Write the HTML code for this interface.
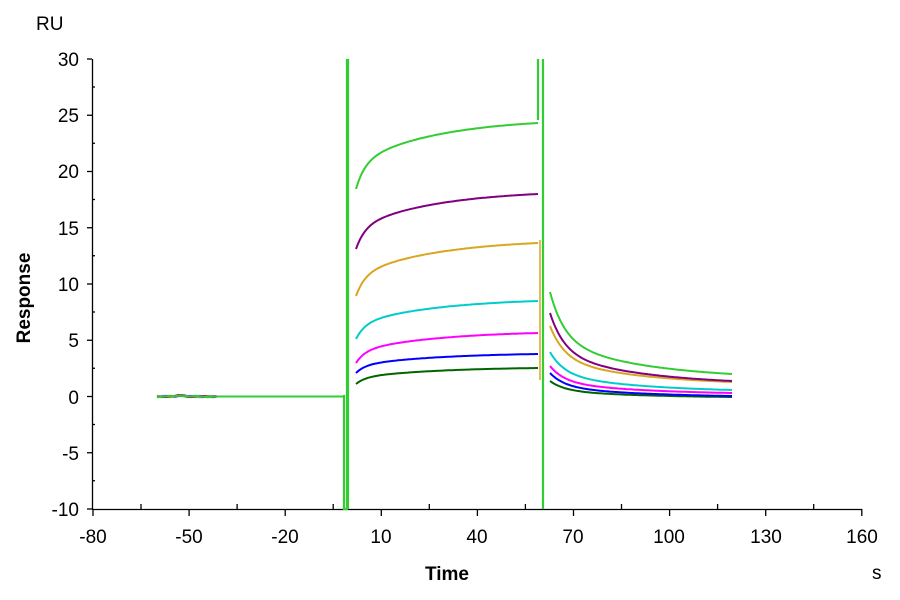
<!DOCTYPE html>
<html><head><meta charset="utf-8"><style>
body{margin:0;background:#fff;}
svg{display:block;font-family:"Liberation Sans",Arial,sans-serif;}
</style></head><body>
<svg id="s" width="900" height="600" viewBox="0 0 900 600">
<rect width="900" height="600" fill="#fff"/>
<g id="axes" stroke="#000" stroke-width="1.3" fill="none">
<line x1="92.5" y1="59" x2="92.5" y2="509"/>
<line x1="92" y1="509.5" x2="862" y2="509.5"/>
</g>
<g id="ticks" stroke="#000" stroke-width="1.3"></g>
<g font-size="19" fill="#000" text-anchor="end">
<text x="79" y="66">30</text><text x="79" y="122">25</text><text x="79" y="178">20</text>
<text x="79" y="235">15</text><text x="79" y="291">10</text><text x="79" y="347">5</text>
<text x="79" y="404">0</text><text x="79" y="460">-5</text><text x="79" y="516">-10</text>
</g>
<g font-size="19" fill="#000" text-anchor="middle">
<text x="93" y="543">-80</text><text x="189" y="543">-50</text><text x="285" y="543">-20</text>
<text x="381" y="543">10</text><text x="477" y="543">40</text><text x="573" y="543">70</text>
<text x="669" y="543">100</text><text x="766" y="543">130</text><text x="862" y="543">160</text>
</g>
<text x="36" y="30" font-size="19">RU</text>
<text x="872" y="579" font-size="19">s</text>
<text x="447" y="580" font-size="19" font-weight="bold" text-anchor="middle">Time</text>
<text transform="translate(30,298) rotate(-90)" font-size="19" font-weight="bold" text-anchor="middle">Response</text>
<g id="data" fill="none" stroke-width="2"></g>
</svg>
<script>
var t=document.getElementById('ticks'),d=document.getElementById('data'),NS='http://www.w3.org/2000/svg';
function L(p,a){var e=document.createElementNS(NS,'line');for(var k in a)e.setAttribute(k,a[k]);p.appendChild(e);}
for(var i=0;i<=8;i++){var x=93+i*96.1;L(t,{x1:x,y1:509,x2:x,y2:516});if(i<8)L(t,{x1:x+48,y1:504,x2:x+48,y2:509});}
for(var i=0;i<=8;i++){var y=59+i*56.25;L(t,{x1:87,y1:y,x2:92,y2:y});if(i<8)L(t,{x1:92,y1:y+28,x2:95,y2:y+28});}
var S=[
['#006400',384,368,381,397],
['#0000ff',373,354,373,396],
['#ff00ff',363,333,366,393],
['#00cccc',339,301,352,390],
['#daa520',296,243,326,382],
['#800080',249,194,313,381],
['#32cd32',189,123,292,374]];
function P(c,pts,w){var e=document.createElementNS(NS,'polyline');e.setAttribute('points',pts.join(' '));e.setAttribute('stroke',c);if(w)e.setAttribute('stroke-width',w);d.appendChild(e);}
function G(q){return 0.55*Math.exp(-q/0.08)+0.45*Math.exp(-q/0.5);}
S.forEach(function(s,j){
 var a=[],b=[],c=[];
 for(var x=157;x<=343;x+=3){var y=396.5+(x<215?Math.sin(x*0.25+j)*0.6:0)+(x>175&&x<185?-1:0);c.push(x+','+y.toFixed(1));}
 P(s[0],c);
 for(var x=356;x<=538;x+=2){var q=(x-356)/182;var f=0.4*(1-Math.exp(-q/0.05))+0.6*(1-Math.exp(-q/0.45))/(1-Math.exp(-1/0.45));a.push(x+','+(s[1]+(s[2]-s[1])*f).toFixed(1));}
 P(s[0],a);
 for(var x=550;x<=732;x+=2){var q=(x-550)/182;var g=(G(q)-G(1))/(1-G(1));b.push(x+','+(s[4]+(s[3]-s[4])*g).toFixed(1));}
 P(s[0],b);
});
P('#daa520',['344,396','344,509'],1.5);
P('#daa520',['348,200','348,400'],1.5);
P('#daa520',['540,240','540,380'],1.5);
P('#32cd32',['343,396','344,396','344,509','347,509','347,59'],2.2);
P('#32cd32',['348,59','348,509'],2.2);
P('#32cd32',['538,59','538,120'],2.2);
P('#32cd32',['543,59','543,509'],2.2);
</script>
</body></html>
